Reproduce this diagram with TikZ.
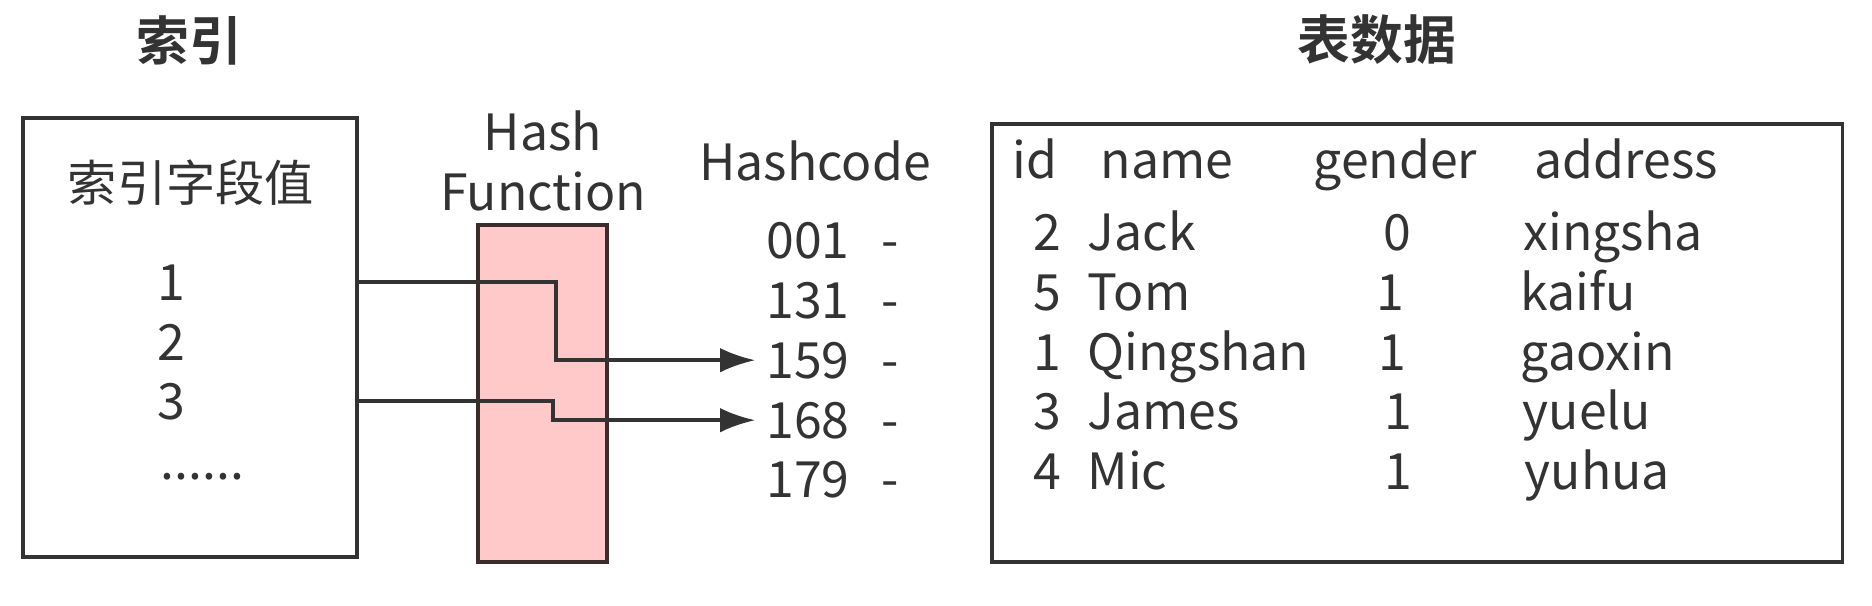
\documentclass[tikz,border=0pt]{standalone}
\usepackage{fontspec}
\setmainfont{Noto Sans CJK SC}[BoldFont={Noto Sans CJK SC Bold}]
\usetikzlibrary{arrows.meta}
\definecolor{ink}{HTML}{333333}
\definecolor{hashpink}{HTML}{FFC9C9}
\definecolor{hashedge}{HTML}{3C2C2C}
\tikzset{
	box/.style   = {draw=ink, line width=1pt, rectangle, inner sep=0pt},
	hash/.style  = {box, draw=hashedge, fill=hashpink},
	title/.style = {font=\fontsize{15}{18}\selectfont\bfseries, text=ink},
	txt/.style   = {font=\fontsize{14.2}{17}\selectfont, text=ink, inner sep=0pt},
	code/.style  = {txt, inner sep=3pt, anchor=base},
	link/.style  = {draw=ink, line width=1pt, ->}
}

\begin{document}
\begin{tikzpicture}[x=0.01cm, y=-0.01cm, >={Latex[length=10pt,width=7pt]}]
	\useasboundingbox (0,0) rectangle (1872,606);
	\draw
	node at (189,40) [title] (t1) {索引}
	node at (1377,40) [title] (t2) {表数据}
	node at (190,337.5) [box, minimum width=3.34cm, minimum height=4.39cm] (idx) {}
	node at (542.5,393.5) [hash, minimum width=1.29cm, minimum height=3.37cm] (hf) {}
	node at (1417,343) [box, minimum width=8.5cm, minimum height=4.38cm] (tbl) {};

	% index column
	\draw
	node at (191,183) [txt, font=\fontsize{14}{17}\selectfont] (field) {索引字段值}
	node at (171,300) [txt, anchor=base] (k1) {1}
	node at (171,360) [txt, anchor=base] (k2) {2}
	node at (171,419) [txt, anchor=base] (k3) {3}
	node at (160,479) [txt, anchor=base west] (kdots) {......}
	node at (543,150) [txt, anchor=base] (hf1) {Hash}
	node at (543,210) [txt, anchor=base] (hf2) {Function};

	% hash codes
	\draw
	node at (815,180) [txt, anchor=base] (hc) {Hashcode}
	node at (808,258) [code] (c001) {001}
	node at (808,318) [code] (c131) {131}
	node at (808,378) [code] (c159) {159}
	node at (808,438) [code] (c168) {168}
	node at (808,497) [code] (c179) {179}
	node at (890,258) [code] (m001) {-}
	node at (890,318) [code] (m131) {-}
	node at (890,378) [code] (m159) {-}
	node at (890,438) [code] (m168) {-}
	node at (890,497) [code] (m179) {-};

	% table
	\draw
	node at (1035,178) [txt, anchor=base] (hid) {id}
	node at (1100,178) [txt, anchor=base west] (hname) {name}
	node at (1313,178) [txt, anchor=base west] (hgen) {gender}
	node at (1534,178) [txt, anchor=base west] (haddr) {address}
	node at (1047,250) [txt, anchor=base] (r1id) {2}
	node at (1087,250) [txt, anchor=base west] (r1name) {Jack}
	node at (1397,250) [txt, anchor=base] (r1gen) {0}
	node at (1523,250) [txt, anchor=base west] (r1addr) {xingsha}
	node at (1047,310) [txt, anchor=base] (r2id) {5}
	node at (1087,310) [txt, anchor=base west] (r2name) {Tom}
	node at (1390,310) [txt, anchor=base] (r2gen) {1}
	node at (1520,310) [txt, anchor=base west] (r2addr) {kaifu}
	node at (1047,370) [txt, anchor=base] (r3id) {1}
	node at (1087,370) [txt, anchor=base west] (r3name) {Qingshan}
	node at (1392,370) [txt, anchor=base] (r3gen) {1}
	node at (1520,370) [txt, anchor=base west] (r3addr) {gaoxin}
	node at (1047,429) [txt, anchor=base] (r4id) {3}
	node at (1087,429) [txt, anchor=base west] (r4name) {James}
	node at (1398,429) [txt, anchor=base] (r4gen) {1}
	node at (1522,429) [txt, anchor=base west] (r4addr) {yuelu}
	node at (1047,489) [txt, anchor=base] (r5id) {4}
	node at (1087,489) [txt, anchor=base west] (r5name) {Mic}
	node at (1398,489) [txt, anchor=base] (r5gen) {1}
	node at (1524,489) [txt, anchor=base west] (r5addr) {yuhua};

	\coordinate (bend1) at (556,0);
	\coordinate (bend2) at (553,0);
	\draw[link] (idx.east |- k1) -| (bend1 |- c159.west) -- (c159.west);
	\draw[link] (idx.east |- k3) -| (bend2 |- c168.west) -- (c168.west);
\end{tikzpicture}
\end{document}
